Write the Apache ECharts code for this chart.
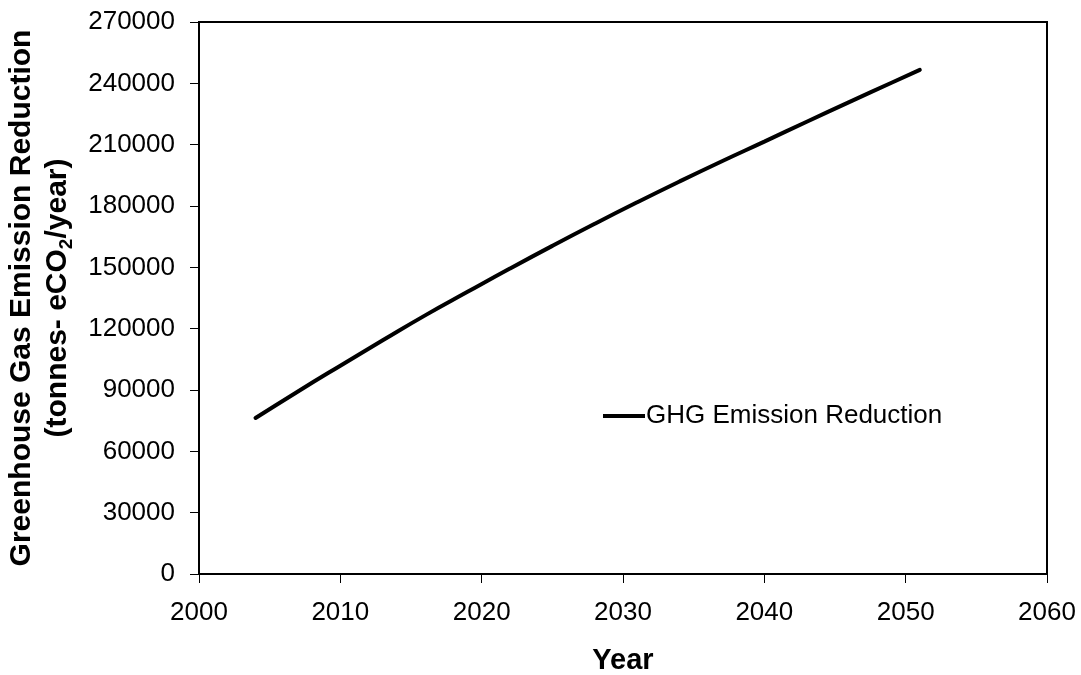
<!DOCTYPE html>
<html>
<head>
<meta charset="utf-8">
<script src="https://cdn.jsdelivr.net/npm/echarts@6/dist/echarts.min.js"></script>
<style>
  html, body { margin: 0; padding: 0; background: #fff; }
  #chart { width: 1081px; height: 675px; }
</style>
</head>
<body>
<div id="chart"></div>
<script>
// values
const years = [2004, 2007, 2010, 2013, 2016, 2019, 2022, 2025, 2028, 2031, 2034, 2037, 2040, 2043, 2046, 2049, 2051];
const reduction = [76300, 89300, 101900, 114300, 126500, 138000, 149400, 160500, 171300, 181800, 192000, 201900, 211500, 221200, 230800, 240300, 246600];
const seriesName = 'GHG Emission Reduction';

const font = '"Liberation Sans", Arial, sans-serif';

const chart = echarts.init(document.getElementById('chart'));

const option = {
  animation: false,
  backgroundColor: '#fff',
  grid: {
    left: 199,
    right: 34,
    top: 22,
    bottom: 101,
    outerBoundsMode: 'none',
    containLabel: false,
    show: true,
    borderColor: '#000',
    borderWidth: 2
  },
  legend: {
    left: 598,
    top: 398,
    icon: 'rect',
    itemWidth: 42,
    itemHeight: 4,
    itemGap: 10,
    textStyle: { fontFamily: font, fontSize: 26, color: '#000', padding: [0, 0, 0, -4] },
    data: [seriesName]
  },
  xAxis: {
    type: 'value',
    min: 2000,
    max: 2060,
    interval: 10,
    name: 'Year',
    nameLocation: 'middle',
    nameGap: 72,
    nameTextStyle: { fontFamily: font, fontSize: 29, fontWeight: 'bold', color: '#000' },
    axisLine: { show: true, lineStyle: { color: '#000', width: 2 } },
    axisTick: { show: true, inside: false, length: 9, lineStyle: { color: '#000', width: 1 } },
    axisLabel: { fontFamily: font, fontSize: 26, color: '#000', margin: 26, formatter: v => String(v) },
    splitLine: { show: false }
  },
  yAxis: {
    type: 'value',
    min: 0,
    max: 270000,
    interval: 30000,
    name: '{t|Greenhouse Gas Emission Reduction}\n{t|(tonnes- eCO}{s|2}{t|/year)}',
    nameLocation: 'middle',
    nameRotate: 90,
    nameGap: 123,
    nameTextStyle: {
      color: '#000',
      rich: {
        t: { fontFamily: font, fontSize: 30, fontWeight: 'bold', color: '#000', lineHeight: 36 },
        s: { fontFamily: font, fontSize: 19, fontWeight: 'bold', color: '#000', lineHeight: 36, verticalAlign: 'bottom' }
      }
    },
    axisLine: { show: true, lineStyle: { color: '#000', width: 2 } },
    axisTick: { show: true, inside: false, length: 9, lineStyle: { color: '#000', width: 1 } },
    axisLabel: { fontFamily: font, fontSize: 26, color: '#000', margin: 24, formatter: v => String(v) },
    splitLine: { show: false }
  },
  series: [
    {
      name: seriesName,
      type: 'line',
      smooth: true,
      showSymbol: false,
      data: years.map((y, i) => [y, reduction[i]]),
      lineStyle: { color: '#000', width: 4, cap: 'round' },
      itemStyle: { color: '#000' }
    }
  ]
};

chart.setOption(option);
</script>
</body>
</html>
